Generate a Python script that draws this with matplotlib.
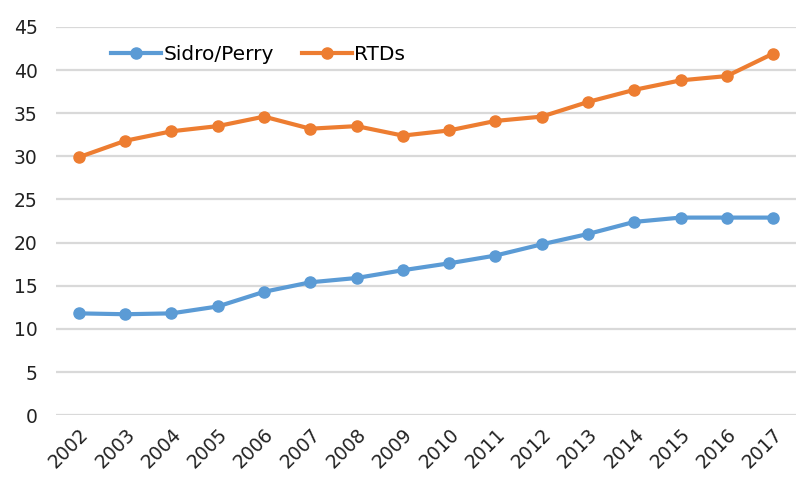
import matplotlib
matplotlib.use("Agg")
import matplotlib.pyplot as plt

years = [str(y) for y in range(2002, 2018)]
sidro_perry = [11.8, 11.7, 11.8, 12.6, 14.3, 15.4, 15.9, 16.8, 17.6, 18.5, 19.8, 21.0, 22.4, 22.9, 22.9, 22.9]
rtds = [29.9, 31.8, 32.9, 33.5, 34.6, 33.2, 33.5, 32.4, 33.0, 34.1, 34.6, 36.3, 37.7, 38.8, 39.3, 41.9]
y_ticks = list(range(0, 50, 5))

plt.rcParams['font.family'] = ['DejaVu Sans']

fig = plt.figure(figsize=(7.97, 4.8), dpi=100)
ax = fig.add_axes([0.070, 0.135, 0.929, 0.809])

x = list(range(len(years)))
ax.plot(x, sidro_perry, color='#5B9BD5', lw=3, marker='o', ms=8, label='Sidro/Perry')
ax.plot(x, rtds, color='#ED7D31', lw=3, marker='o', ms=8, label='RTDs')

ax.set_xlim(-0.5, len(years) - 0.5)
ax.set_ylim(0, 45)
ax.set_yticks(y_ticks)
ax.set_xticks(x)
ax.set_xticklabels(years, rotation=45, ha='right', rotation_mode='anchor')
ax.tick_params(axis='both', length=0, labelsize=13.5, labelcolor='#222222')
ax.tick_params(axis='y', pad=13)
ax.tick_params(axis='x', pad=7)
ax.grid(axis='y', color='#d9d9d9', lw=1.6)
ax.set_axisbelow(True)
for s in ax.spines.values():
    s.set_visible(False)

ax.legend(loc='upper left', bbox_to_anchor=(0.05, 1.0), ncol=2, frameon=False,
          fontsize=14.5, handlelength=2.5, columnspacing=1.4, handletextpad=0.1)

fig.savefig('out.png', dpi=100)
